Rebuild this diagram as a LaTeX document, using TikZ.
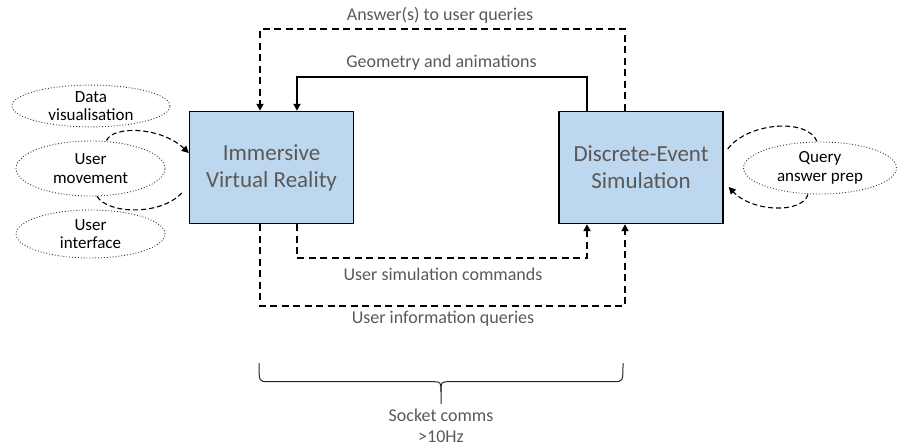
\documentclass[tikz,border=0pt]{standalone}
\usepackage{fontspec}
\setmainfont{Carlito}
\usetikzlibrary{arrows.meta}
\definecolor{boxfill}{HTML}{BDD7EE}
\definecolor{txtgray}{HTML}{595959}
\tikzset{
  mainbox/.style={draw=black, line width=1.4pt, fill=boxfill, minimum width=164pt, minimum height=112pt, text=txtgray, font=\fontsize{23}{27}\selectfont, align=center, inner sep=0pt},
  bubble/.style={draw=black!80, dotted, line width=0.9pt, ellipse, inner sep=0pt, font=\fontsize{17}{18.5}\selectfont, align=center},
  lbl/.style={text=txtgray, font=\fontsize{18}{23}\selectfont, align=center, inner sep=0pt},
  conn/.style={line width=1.8pt, black},
  dconn/.style={conn, dash pattern=on 7pt off 4.5pt},
  tip/.style={-{Triangle[length=7pt,width=7pt]}},
  loopc/.style={line width=1.1pt, dash pattern=on 5pt off 3pt, black},
}
\usetikzlibrary{shapes.geometric}
\begin{document}
\begin{tikzpicture}[x=1pt,y=-1pt]
\useasboundingbox (0,0) rectangle (897,446);
\node[mainbox] (ivr) at (271.5,167.5) {Immersive\\Virtual Reality};
\node[mainbox] (des) at (641,167.5) {Discrete-Event\\Simulation};

\node[bubble, minimum width=158pt, minimum height=39pt] (dv) at (91,106) {Data\\visualisation};
\node[bubble, minimum width=149pt, minimum height=55pt] (um) at (90.5,168.5) {User\\movement};
\node[bubble, minimum width=149pt, minimum height=48pt] (ui) at (90.5,234) {User\\interface};
\node[bubble, minimum width=153pt, minimum height=52pt] (qa) at (820,168) {Query\\answer prep};

\coordinate (ytop) at (0,29.3);
\coordinate (ygeo) at (0,77.3);
\coordinate (ycmd) at (0,258.3);
\coordinate (yqry) at (0,306);

% Answers
\draw[dconn, tip] ([xshift=-16pt]des.north) -- ([xshift=-16pt]des.north |- ytop) -- ([xshift=-11.5pt]ivr.north |- ytop) -- ([xshift=-11.5pt]ivr.north);
% Geometry
\draw[conn, tip] ([xshift=-54pt]des.north) -- ([xshift=-54pt]des.north |- ygeo) -- ([xshift=25.5pt]ivr.north |- ygeo) -- ([xshift=25.5pt]ivr.north);
% Commands
\draw[dconn, tip] ([xshift=25.5pt]ivr.south) -- ([xshift=25.5pt]ivr.south |- ycmd) -- ([xshift=-54pt]des.south |- ycmd) -- ([xshift=-54pt]des.south);
% Queries
\draw[dconn, tip] ([xshift=-11.5pt]ivr.south) -- ([xshift=-11.5pt]ivr.south |- yqry) -- ([xshift=-16pt]des.south |- yqry) -- ([xshift=-16pt]des.south);

\node[lbl] (l1) at (440,15) {Answer(s) to user queries};
\node[lbl] (l2) at (441.5,63) {Geometry and animations};
\node[lbl] (l3) at (443,274) {User simulation commands};
\node[lbl] (l4) at (443,319) {User information queries};

% loops left
\draw[loopc, tip] ([xshift=16pt]um.north) .. controls (112,126) and (160,126) .. ([yshift=14.5pt]ivr.west);
\coordinate (lend) at ([xshift=-7pt,yshift=-25.5pt]ivr.west);
\draw[loopc] ([xshift=6.5pt]um.south) .. controls (108,214) and (160,216) .. (lend);
% loops right
\draw[loopc] ([xshift=4pt,yshift=18.5pt]des.east) .. controls (748,122) and (808,118) .. ([xshift=-3pt]qa.north);
\draw[loopc, tip] ([xshift=-12pt]qa.south) .. controls (802,214) and (752,212) .. ([xshift=5pt,yshift=-19.5pt]des.east);

% brace
\node[lbl] (sock) at (441,415.5) {Socket comms};
\node[lbl] (hz) at (441,436.5) {>10Hz};
\draw[line width=1pt, black!85] (259,363) .. controls (259,381.7) .. (268,381.7) -- (432,381.7) .. controls (441,381.7) .. (441,392) -- (441,404);
\draw[line width=1pt, black!85] (623,363) .. controls (623,381.7) .. (614,381.7) -- (450,381.7) .. controls (441,381.7) .. (441,392);
\end{tikzpicture}
\end{document}
